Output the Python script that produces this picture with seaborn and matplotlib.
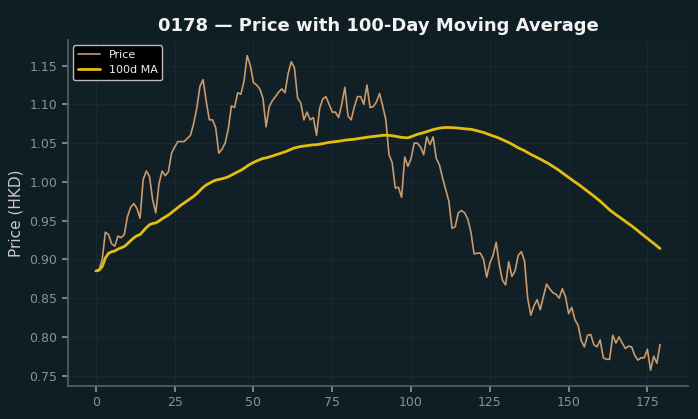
import seaborn as sns
import matplotlib.pyplot as plt
import pandas as pd

# daily close prices (180 trading days)
price = [
    0.885, 0.887, 0.900, 0.935, 0.932, 0.920, 0.917, 0.930, 0.928, 0.932,
    0.955, 0.967, 0.972, 0.966, 0.953, 1.003, 1.014, 1.007, 0.977, 0.960,
    0.997, 1.014, 1.008, 1.013, 1.037, 1.045, 1.052, 1.052, 1.052, 1.056,
    1.060, 1.075, 1.095, 1.123, 1.132, 1.104, 1.080, 1.080, 1.070, 1.037,
    1.042, 1.050, 1.068, 1.098, 1.096, 1.115, 1.113, 1.130, 1.163, 1.150,
    1.128, 1.125, 1.120, 1.108, 1.071, 1.097, 1.105, 1.110, 1.116, 1.120,
    1.115, 1.140, 1.155, 1.147, 1.108, 1.102, 1.080, 1.090, 1.080, 1.083,
    1.060, 1.095, 1.107, 1.110, 1.100, 1.090, 1.090, 1.083, 1.100, 1.122,
    1.085, 1.080, 1.097, 1.110, 1.110, 1.100, 1.125, 1.096, 1.097, 1.103,
    1.114, 1.098, 1.080, 1.035, 1.025, 0.992, 0.993, 0.980, 1.032, 1.020,
    1.030, 1.050, 1.050, 1.045, 1.035, 1.058, 1.048, 1.058, 1.030, 1.022,
    1.005, 0.990, 0.975, 0.940, 0.942, 0.960, 0.963, 0.960, 0.952, 0.935,
    0.907, 0.908, 0.908, 0.900, 0.877, 0.895, 0.905, 0.922, 0.893, 0.873,
    0.867, 0.897, 0.878, 0.885, 0.905, 0.910, 0.898, 0.850, 0.828, 0.840,
    0.848, 0.835, 0.852, 0.868, 0.862, 0.857, 0.855, 0.850, 0.862, 0.852,
    0.830, 0.838, 0.822, 0.815, 0.795, 0.787, 0.802, 0.803, 0.790, 0.787,
    0.796, 0.773, 0.771, 0.771, 0.802, 0.792, 0.800, 0.792, 0.785, 0.788,
    0.787, 0.776, 0.770, 0.773, 0.773, 0.784, 0.757, 0.775, 0.766, 0.790,
]
ticker = "0178"
window = 100

df = pd.DataFrame({"day": range(len(price)), "price": price})
df["ma"] = df["price"].rolling(window, min_periods=1).mean()

bg = "#0f1e24"
sns.set_theme(style="dark", rc={
    "figure.facecolor": bg,
    "axes.facecolor": "#111f27",
    "axes.edgecolor": "#555f63",
    "grid.color": "#1b2a31",
    "text.color": "#eeeeee",
    "axes.labelcolor": "#c8c8c8",
    "xtick.color": "#8a9296",
    "ytick.color": "#8a9296",
})
plt.rcParams["font.family"] = ["DejaVu Sans"]

fig, ax = plt.subplots(figsize=(6.98, 4.19), dpi=100)
sns.lineplot(data=df, x="day", y="price", ax=ax, color="#c99a6c", lw=1.2, label="Price")
sns.lineplot(data=df, x="day", y="ma", ax=ax, color="#e3bd12", lw=2, label=f"{window}d MA")

ax.grid(True, lw=0.6)
ax.tick_params(axis="both", length=4, labelsize=9, colors="#8a9296", bottom=True, left=True)
ax.set_xlabel("")
ax.set_ylabel("Price (HKD)", fontsize=11)
ax.set_title(f"{ticker} — Price with 100-Day Moving Average", fontsize=13, fontweight="bold", color="#f2f2f2")
sns.despine(ax=ax)

leg = ax.legend(loc="upper left", fontsize=8, facecolor="black", edgecolor="#bbbbbb", framealpha=1)
for t in leg.get_texts():
    t.set_color("#eeeeee")

fig.subplots_adjust(left=0.097, right=0.986, top=0.905, bottom=0.079)
fig.savefig("out.png", dpi=100, facecolor=bg)
